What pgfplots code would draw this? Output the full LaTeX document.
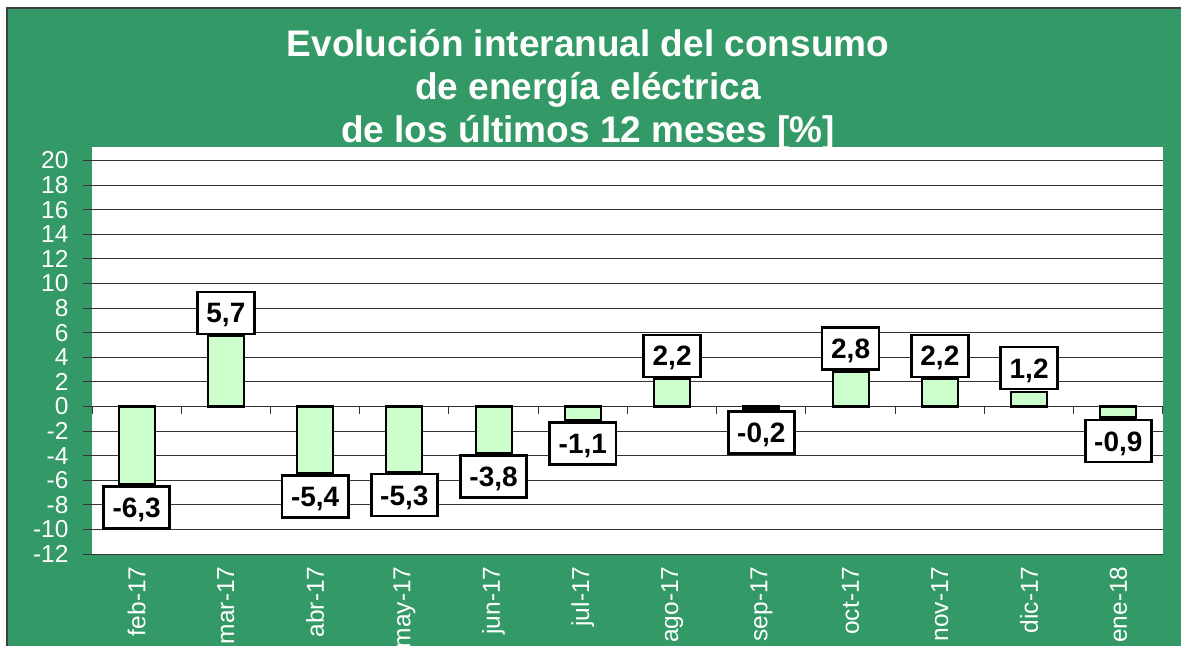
\documentclass[border=0pt]{standalone}
\usepackage{pgfplots}
\pgfplotsset{compat=1.18}
\usepackage{pgfplotstable}
\usepackage{fontspec}
\setmainfont{Liberation Sans}
\definecolor{bggreen}{RGB}{51,153,102}
\definecolor{barfill}{RGB}{204,255,204}

\pgfplotstableread{
x y lab
1 5.7 5,7
6 2.2 2,2
8 2.8 2,8
9 2.2 2,2
10 1.2 1,2
}\pos
\pgfplotstableread{
x y lab
0 -6.3 -6,3
2 -5.4 -5,4
3 -5.3 -5,3
4 -3.8 -3,8
5 -1.1 -1,1
7 -0.2 -0,2
11 -0.9 -0,9
}\negs

\begin{document}
\begin{tikzpicture}[x=1pt,y=1pt]
\useasboundingbox (0,0) rectangle (1181,646);
\fill[white] (0,0) rectangle (1181,646);
\fill[bggreen] (7,0) rectangle (1181,638);
\draw[black!75, line width=1.5pt] (7,0) -- (7,638) -- (1181,638);
\begin{axis}[
 at={(92pt,92pt)}, anchor=south west,
 scale only axis, width=1071pt, height=407pt,
 xmin=-0.5, xmax=11.5, ymin=-12, ymax=21.1,
 ytick={-12,-10,...,20},
 xtick={0,...,11},
 xticklabels={feb-17,mar-17,abr-17,may-17,jun-17,jul-17,ago-17,sep-17,oct-17,nov-17,dic-17,ene-18},
 axis background/.style={fill=white},
 axis line style={draw=none},
 ymajorgrids, grid style={black!80, line width=1pt},
 tick align=outside,
 ytick pos=left, xtick pos=bottom,
 major tick length=9pt,
 y tick style={black!80, line width=1pt},
 x tick style={draw=none},
 yticklabel style={font=\fontsize{24.5}{24.5}\selectfont, text=white, xshift=-11pt},
 xticklabel style={font=\fontsize{24.5}{24.5}\selectfont, text=white, rotate=90, anchor=east},
 /pgf/number format/assume math mode=true,
 ybar, bar width=36pt, bar shift=0pt,
 clip=false,
 point meta=explicit symbolic,
 nodes near coords={\pgfplotspointmeta},
 every node near coord/.append style={fill=white, draw=black, line width=2.6pt,
   font=\fontsize{28}{28}\selectfont\bfseries, text=black,
   inner xsep=9pt, inner ysep=11pt, text height=20pt, text depth=0pt, outer ysep=2.5pt},
]
\addplot[fill=barfill, draw=black, line width=2.2pt,
  every node near coord/.append style={anchor=south}] table[x=x,y=y,meta=lab] \pos;
\addplot[fill=barfill, draw=black, line width=2.2pt,
  every node near coord/.append style={anchor=north}] table[x=x,y=y,meta=lab] \negs;
\pgfplotsinvokeforeach{-0.5,0.5,1.5,2.5,3.5,4.5,5.5,6.5,7.5,8.5,9.5,10.5,11.5}{
  \draw[black!80, line width=1pt] (axis cs:#1,0) -- ++(0pt,-8pt);
}
\end{axis}
\begin{scope}[every node/.style={font=\fontsize{37}{37}\selectfont\bfseries, text=white, anchor=base}]
\node at (588,589) {Evolución interanual del consumo};
\node at (588,546) {de energía eléctrica};
\node at (588,503) {de los últimos 12 meses [\%]};
\end{scope}
\end{tikzpicture}
\end{document}
